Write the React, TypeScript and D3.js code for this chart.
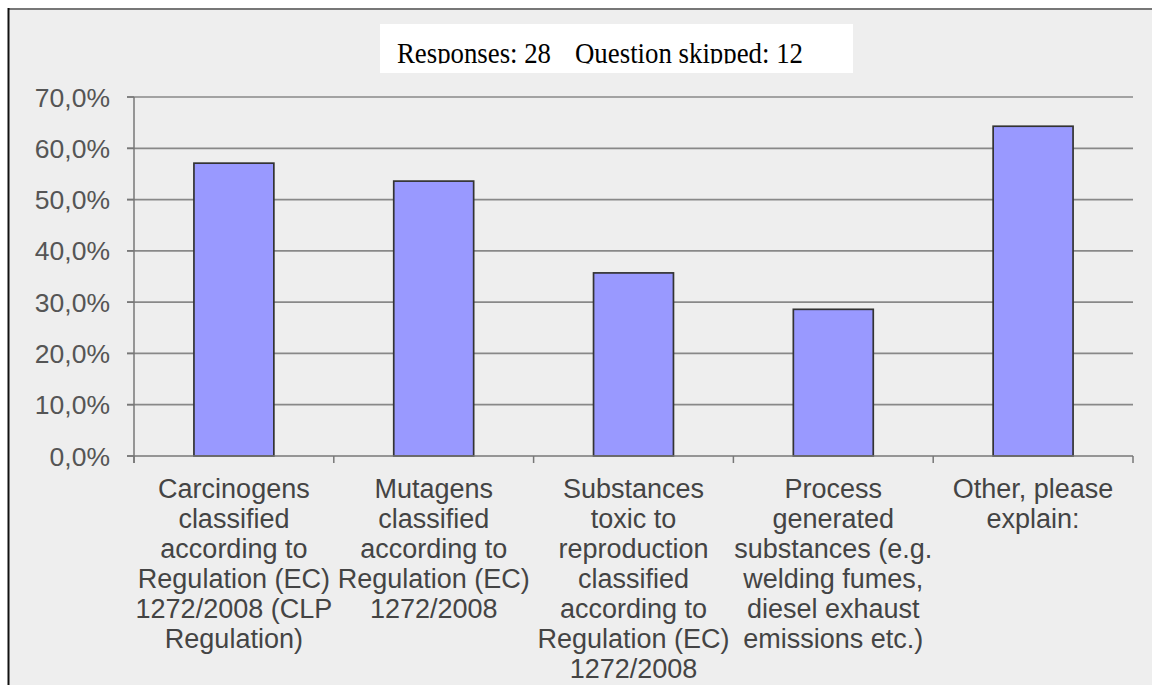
import React from "react";
import * as d3 from "d3";

const categories: string[][] = [
  ["Carcinogens", "classified", "according to", "Regulation (EC)", "1272/2008 (CLP", "Regulation)"],
  ["Mutagens", "classified", "according to", "Regulation (EC)", "1272/2008"],
  ["Substances", "toxic to", "reproduction", "classified", "according to", "Regulation (EC)", "1272/2008"],
  ["Process", "generated", "substances (e.g.", "welding fumes,", "diesel exhaust", "emissions etc.)"],
  ["Other, please", "explain:"],
];
const values: number[] = [57.1, 53.6, 35.7, 28.6, 64.3];
const yTicks: number[] = [0, 10, 20, 30, 40, 50, 60, 70];
const responsesText = "Responses: 28";
const skippedText = "Question skipped: 12";

const W = 1152;
const H = 686;
const plot = { left: 134, right: 1133, top: 97, bottom: 456 };

export default function App() {
  const x = d3
    .scaleBand<number>()
    .domain(categories.map((_, i) => i))
    .range([plot.left, plot.right])
    .paddingInner(0.6)
    .paddingOuter(0.3);
  const y = d3.scaleLinear().domain([0, 70]).range([plot.bottom, plot.top]);
  const step = (plot.right - plot.left) / categories.length;
  const fmt = (v: number) => v.toFixed(1).replace(".", ",") + "%";
  const sans = "'Liberation Sans', Arial, sans-serif";

  return (
    <svg
      width={W}
      height={H}
      style={{ position: "absolute", left: 0, top: 0, display: "block" }}
    >
      <rect x={0} y={0} width={W} height={H} fill="#ffffff" />
      <rect x={8} y={8} width={W - 8} height={H - 9} fill="#eeeeee" />
      <line x1={8} y1={9} x2={W} y2={9} stroke="#777" strokeWidth={2} />
      <line x1={8.5} y1={8} x2={8.5} y2={H - 1} stroke="#111" strokeWidth={2} />

      {/* title box */}
      <defs>
        <clipPath id="titleClip">
          <rect x={380} y={24} width={473} height={39.5} />
        </clipPath>
      </defs>
      <rect x={380} y={24} width={473} height={49} fill="#ffffff" />
      <g clipPath="url(#titleClip)" fontFamily="'Liberation Serif', 'Times New Roman', serif" fontSize={29.5} fill="#000">
        <text x={397} y={62.5} textLength={154} lengthAdjust="spacingAndGlyphs">{responsesText}</text>
        <text x={575} y={62.5} textLength={228} lengthAdjust="spacingAndGlyphs">{skippedText}</text>
      </g>

      {/* gridlines */}
      {yTicks.slice(1).map((t) => (
        <line
          key={"g" + t}
          x1={plot.left - 7}
          x2={plot.right}
          y1={y(t)}
          y2={y(t)}
          stroke="#888"
          strokeWidth={1.7}
        />
      ))}
      {/* y ticks & labels */}
      {yTicks.map((t) => (
        <g key={"t" + t}>
          <line x1={plot.left - 7} x2={plot.left} y1={y(t)} y2={y(t)} stroke="#777" strokeWidth={1.5} />
          <text
            x={110}
            y={y(t)}
            dy="0.36em"
            textAnchor="end"
            fontFamily={sans}
            fontSize={26.5}
            fill="#555"
          >
            {fmt(t)}
          </text>
        </g>
      ))}

      {/* bars */}
      {values.map((v, i) => (
        <rect
          key={"b" + i}
          x={x(i)!}
          y={y(v)}
          width={x.bandwidth()}
          height={y(0) - y(v)}
          fill="#9999ff"
          stroke="#333"
          strokeWidth={1.7}
        />
      ))}

      {/* axes */}
      <line x1={plot.left} x2={plot.left} y1={plot.top} y2={plot.bottom + 7} stroke="#777" strokeWidth={1.5} />
      <line x1={plot.left - 7} x2={plot.right} y1={plot.bottom} y2={plot.bottom} stroke="#777" strokeWidth={1.5} />
      {d3.range(categories.length + 1).map((i) => (
        <line
          key={"xt" + i}
          x1={plot.left + i * step}
          x2={plot.left + i * step}
          y1={plot.bottom}
          y2={plot.bottom + 7}
          stroke="#777"
          strokeWidth={1.5}
        />
      ))}

      {/* x labels */}
      {categories.map((lines, i) => (
        <text
          key={"xl" + i}
          textAnchor="middle"
          fontFamily={sans}
          fontSize={27}
          fill="#444"
        >
          {lines.map((ln, j) => (
            <tspan key={j} x={x(i)! + x.bandwidth() / 2} y={498 + j * 30}>
              {ln}
            </tspan>
          ))}
        </text>
      ))}
    </svg>
  );
}
